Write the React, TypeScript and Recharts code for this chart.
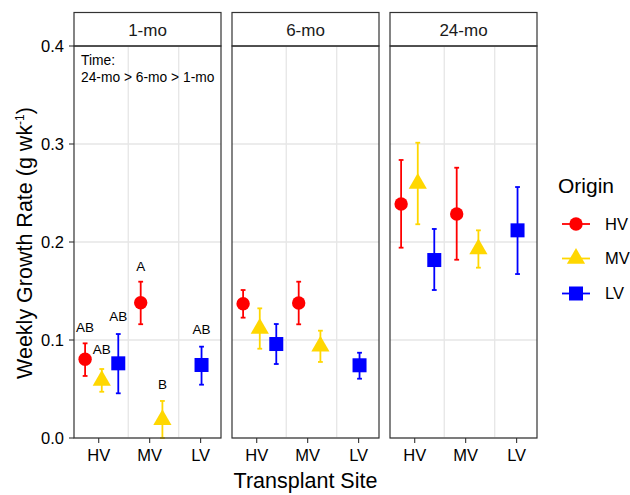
import React from 'react';
import { ScatterChart, Scatter, XAxis, YAxis, CartesianGrid, ErrorBar, ReferenceLine } from 'recharts';

// ---------- data ----------
const timePoints = ['1-mo', '6-mo', '24-mo'];
const sites = ['HV', 'MV', 'LV'];
const origins = ['HV', 'MV', 'LV'];

// values indexed [timePoint][site]; null = not measured
const hvMean = [[0.0803, 0.138, null], [0.137, 0.1378, null], [0.2388, 0.2286, null]];
const hvLow = [[0.0633, 0.1161, null], [0.1228, 0.116, null], [0.1942, 0.1819, null]];
const hvHigh = [[0.0966, 0.1595, null], [0.151, 0.1595, null], [0.2837, 0.2758, null]];

const mvMean = [[0.0588, 0.0186, null], [0.1117, 0.0935, null], [0.2597, 0.1929, null]];
const mvLow = [[0.0472, 0.0, null], [0.0911, 0.0776, null], [0.2181, 0.1738, null]];
const mvHigh = [[0.0704, 0.0378, null], [0.1323, 0.1095, null], [0.3013, 0.2119, null]];

const lvMean = [[0.0762, null, 0.0745], [0.0959, null, 0.0742], [0.1816, null, 0.2119]];
const lvLow = [[0.0456, null, 0.0544], [0.0755, null, 0.0605], [0.151, null, 0.1673]];
const lvHigh = [[0.1061, null, 0.0932], [0.1163, null, 0.087], [0.2133, null, 0.2561]];

// significance letters (1-mo panel)
const letterSite = ['HV', 'HV', 'HV', 'MV', 'MV', 'LV'];
const letterOrigin = ['HV', 'MV', 'LV', 'HV', 'MV', 'LV'];
const letterText = ['AB', 'AB', 'AB', 'A', 'B', 'AB'];
const letterY = [0.1126, 0.0898, 0.1238, 0.1748, 0.0551, 0.1109];

const yTicks = [0, 0.1, 0.2, 0.3, 0.4];
const annotationLines = ['Time:', '24-mo > 6-mo > 1-mo'];

// ---------- styling / layout ----------
const COLORS: Record<string, string> = { HV: '#FF0000', MV: '#FFD700', LV: '#0000FF' };
const FONT = '"Liberation Sans", Arial, Helvetica, sans-serif';
const PANEL_LEFT = [74, 232, 390];
const PANEL_W = 147;
const PANEL_TOP = 46;
const PANEL_H = 392;
const STRIP_TOP = 12.5;
const Y_AXIS_W = 74;
const GRID = '#E6E6E6';
const BORDER = '#333333';
// point dodging depending on how many origins share a site
const DODGE: Record<number, number[]> = { 1: [0.018], 2: [-0.176, 0.25], 3: [-0.267, 0.06, 0.384] };
const MINOR_X = [1.58, 2.57];

const meanSets: Record<string, (number | null)[][]> = { HV: hvMean, MV: mvMean, LV: lvMean };
const lowSets: Record<string, (number | null)[][]> = { HV: hvLow, MV: mvLow, LV: lvLow };
const highSets: Record<string, (number | null)[][]> = { HV: hvHigh, MV: mvHigh, LV: lvHigh };

function dodgedX(t: number, siteIdx: number, origin: string): number {
  const present = origins.filter((o) => meanSets[o][t][siteIdx] !== null);
  const k = present.indexOf(origin);
  return siteIdx + 1 + DODGE[present.length][k];
}

function seriesData(t: number, origin: string) {
  const out: any[] = [];
  sites.forEach((s, si) => {
    const m = meanSets[origin][t][si];
    if (m === null) return;
    const lo = lowSets[origin][t][si] as number;
    const hi = highSets[origin][t][si] as number;
    out.push({ x: dodgedX(t, si, origin), y: m, err: [m - lo, hi - m], site: s });
  });
  return out;
}

function letterData(t: number) {
  if (t !== 0) return [];
  return letterText.map((txt, i) => ({
    x: dodgedX(t, sites.indexOf(letterSite[i]), letterOrigin[i]),
    y: letterY[i],
    text: txt,
  }));
}

// ---------- shapes ----------
function markerPath(origin: string, cx: number, cy: number) {
  const c = COLORS[origin];
  if (origin === 'HV') return <circle cx={cx} cy={cy} r={6.7} fill={c} />;
  if (origin === 'MV') {
    const r = 10.5;
    const hw = r * Math.sqrt(3) / 2;
    return <polygon points={`${cx},${cy - r} ${cx + hw},${cy + r / 2} ${cx - hw},${cy + r / 2}`} fill={c} />;
  }
  return <rect x={cx - 7} y={cy - 7} width={14} height={14} fill={c} />;
}

const Empty = () => <g />;

function Panel({ t }: { t: number }) {
  const first = t === 0;
  const left = PANEL_LEFT[t] - (first ? Y_AXIS_W : 0);
  const width = PANEL_W + (first ? Y_AXIS_W : 0) + 2;
  return (
    <div style={{ position: 'absolute', left, top: 0 }}>
      <ScatterChart width={width} height={495} margin={{ top: PANEL_TOP, right: 2, bottom: 27, left: 0 }}>
        <CartesianGrid stroke={GRID} strokeWidth={1.3} vertical={false} />
        <XAxis
          type="number"
          dataKey="x"
          domain={[0.515, 3.4]}
          ticks={[1, 2, 3]}
          tickFormatter={(v: number) => sites[Math.round(v) - 1]}
          allowDataOverflow
          axisLine={false}
          tickSize={5}
          tickMargin={6}
          height={30}
          tickLine={{ stroke: BORDER, strokeWidth: 1.1 }}
          tick={{ fontSize: 16.5, fill: '#000' }}
        />
        <YAxis
          type="number"
          dataKey="y"
          domain={[0, 0.4]}
          ticks={yTicks}
          allowDataOverflow
          hide={!first}
          width={first ? Y_AXIS_W : 0}
          tickFormatter={(v: number) => v.toFixed(1)}
          axisLine={false}
          tickSize={5}
          tickMargin={5}
          tickLine={{ stroke: BORDER, strokeWidth: 1.1 }}
          tick={{ fontSize: 16.5, fill: '#000' }}
        />
        {MINOR_X.map((v) => (
          <ReferenceLine key={v} x={v} stroke={GRID} strokeWidth={1.3} />
        ))}
        {origins.map((o) => (
          <Scatter key={'e' + o} data={seriesData(t, o)} shape={Empty} isAnimationActive={false}>
            <ErrorBar dataKey="err" direction="y" width={2.4} stroke={COLORS[o]} strokeWidth={1.8} isAnimationActive={false} />
          </Scatter>
        ))}
        {origins.map((o) => (
          <Scatter
            key={'p' + o}
            data={seriesData(t, o)}
            isAnimationActive={false}
            shape={(p: any) => markerPath(o, p.cx, p.cy)}
          />
        ))}
        <Scatter
          data={letterData(t)}
          isAnimationActive={false}
          shape={(p: any) => (
            <text x={p.cx} y={p.cy} textAnchor="middle" dominantBaseline="central" fontSize={13.5} fill="#000">
              {p.payload.text}
            </text>
          )}
        />
      </ScatterChart>
    </div>
  );
}

function Overlay() {
  const legendY = [224, 258.5, 293.5];
  return (
    <svg width={630} height={495} style={{ position: 'absolute', left: 0, top: 0, pointerEvents: 'none' }}>
      {timePoints.map((tp, i) => (
        <g key={tp}>
          <rect x={PANEL_LEFT[i]} y={STRIP_TOP} width={PANEL_W} height={PANEL_TOP - STRIP_TOP} fill="#fff" stroke={BORDER} strokeWidth={1.2} />
          <text x={PANEL_LEFT[i] + PANEL_W / 2} y={36} textAnchor="middle" fontSize={17} fill="#1a1a1a">{tp}</text>
          <rect x={PANEL_LEFT[i]} y={PANEL_TOP} width={PANEL_W} height={PANEL_H} fill="none" stroke={BORDER} strokeWidth={1.2} />
        </g>
      ))}
      {annotationLines.map((l, i) => (
        <text key={i} x={81} y={65 + i * 16.7} fontSize={13.8} fill="#000">{l}</text>
      ))}
      <text x={305.5} y={488} textAnchor="middle" fontSize={21.5} fill="#000">Transplant Site</text>
      <text transform="translate(31.5,243) rotate(-90)" textAnchor="middle" fontSize={21.5} fill="#000">
        Weekly Growth Rate (g wk<tspan fontSize={12} dy={-8}>-1</tspan><tspan dy={8}>)</tspan>
      </text>
      <text x={558} y={192.5} fontSize={21} fill="#000">Origin</text>
      {origins.map((o, i) => (
        <g key={o}>
          <line x1={562} x2={590} y1={legendY[i]} y2={legendY[i]} stroke={COLORS[o]} strokeWidth={1.8} />
          {markerPath(o, 576, legendY[i])}
          <text x={605} y={legendY[i] + 5.9} fontSize={16.5} fill="#000">{o}</text>
        </g>
      ))}
    </svg>
  );
}

export default function App() {
  return (
    <div style={{ position: 'absolute', left: 0, top: 0, width: 630, height: 495, background: '#fff', fontFamily: FONT }}>
      {timePoints.map((tp, i) => (
        <Panel key={tp} t={i} />
      ))}
      <Overlay />
    </div>
  );
}
